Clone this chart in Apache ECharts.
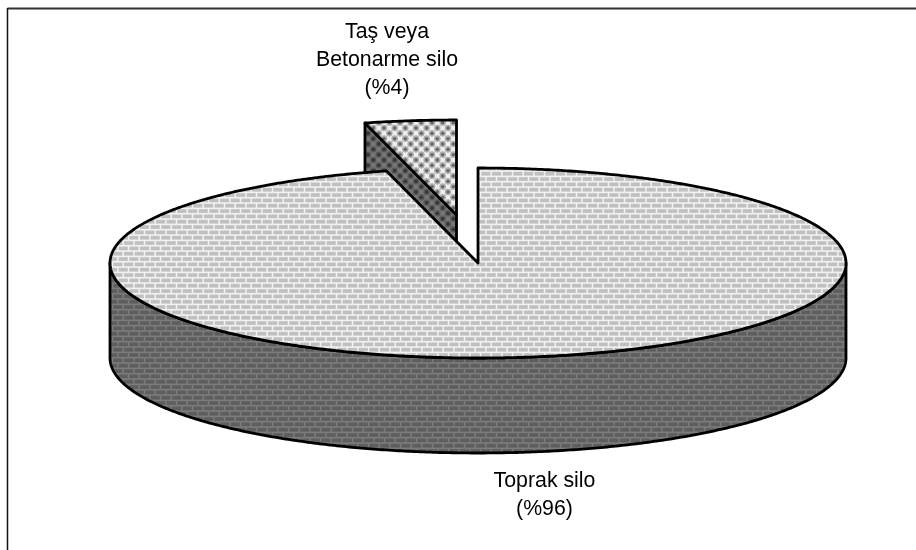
<!DOCTYPE html>
<html>
<head>
<meta charset="utf-8">
<style>html,body{margin:0;padding:0;background:#fff}#chart{width:916px;height:550px}</style>
<script src="https://cdn.jsdelivr.net/npm/echarts@6/dist/echarts.min.js"></script>
</head>
<body>
<div id="chart"></div>
<script>
// Silo types, in percent; shares run clockwise from twelve o'clock.
const sliceNames = ['Toprak silo', 'Taş veya\nBetonarme silo'];
const sliceShares = [96, 4];
const sliceLabels = ['(%96)', '(%4)'];

// Fill swatches: 8-unit hatch cells at 4/3 scale, three cells per 32px tile.
function tile(draw) {
  const c = document.createElement('canvas');
  c.width = c.height = 32;
  draw(c.getContext('2d'), 32 / 3);
  return { image: c, repeat: 'repeat' };
}
function bricks(mortar, brick) {
  return tile((g, u) => {
    g.fillStyle = mortar;
    g.fillRect(0, 0, 32, 32);
    g.fillStyle = brick;
    for (let r = 0; r < 6; r++) {
      const y = r * u / 2 + 1.2;
      const shift = r % 2 ? u / 2 : 0;
      for (let i = -1; i < 4; i++) g.fillRect(i * u + shift + 1.3, y, u - 1.5, u / 2 - 1.6);
    }
  });
}
function dots(base, ring, core) {
  return tile((g, u) => {
    g.fillStyle = base;
    g.fillRect(0, 0, 32, 32);
    for (let r = 0; r <= 6; r++) {
      const y = r * u / 2;
      const shift = r % 2 ? u / 2 : 0;
      for (let i = -1; i < 5; i++) {
        const x = i * u + shift;
        g.fillStyle = ring;
        g.beginPath(); g.arc(x, y, 3.3, 0, 7); g.fill();
        g.fillStyle = core;
        g.beginPath(); g.arc(x, y, 1.7, 0, 7); g.fill();
      }
    }
  });
}
const lightBrick = bricks('#f2f2f2', '#c0c0c0');
const darkBrick = bricks('#7c7c7c', '#5e5e5e');
const lightDots = dots('#f0f0f0', '#b0b0b0', '#666666');
const darkDots = dots('#787878', '#5a5a5a', '#333333');

// Projected pie: ellipse centre, radii, wall height and the pull-out of the small slice.
const pie = { cx: 478, cy: 263, rx: 368, ry: 95, depth: 95 };
const pullOut = [[0, 0], [-21.5, -48]];
const labelAt = [[544.5, 481, 509], [387, 32, 88]];
const outline = { stroke: '#000', lineWidth: 2.8, lineJoin: 'round' };

const rim = (ox, oy, deg) => {
  const a = deg * Math.PI / 180;
  return [pie.cx + ox + pie.rx * Math.sin(a), pie.cy + oy - pie.ry * Math.cos(a)];
};
const arc = (ox, oy, from, to, dy = 0) => {
  const pts = [];
  const n = Math.max(2, Math.ceil(Math.abs(to - from) * 2));
  for (let i = 0; i <= n; i++) {
    const p = rim(ox, oy, from + (to - from) * i / n);
    pts.push([p[0], p[1] + dy]);
  }
  return pts;
};

const total = sliceShares.reduce((s, v) => s + v, 0);
const slices = sliceShares.map((v, i) => {
  const start = sliceShares.slice(0, i).reduce((s, w) => s + w, 0) / total * 360;
  return { name: sliceNames[i], label: sliceLabels[i], value: v, start, end: start + v / total * 360, index: i };
});

function polygon(points, fill) {
  return { type: 'polygon', shape: { points }, style: { fill, ...outline } };
}

function renderSlice(index) {
  const s = slices[index];
  const [ox, oy] = pullOut[s.index];
  const centre = [pie.cx + ox, pie.cy + oy];
  const children = [];
  if (s.index === 0) {
    // Front wall: the part of the rim facing the viewer.
    const wallFrom = Math.max(s.start, 90), wallTo = Math.min(s.end, 270);
    children.push(polygon(arc(ox, oy, wallFrom, wallTo).concat(arc(ox, oy, wallTo, wallFrom, pie.depth)), darkBrick));
    children.push(polygon([centre].concat(arc(ox, oy, s.start, s.end)), lightBrick));
  } else {
    // Cut face of the pulled-out slice, then its top.
    const e = rim(ox, oy, s.start);
    children.push(polygon([centre, e, [e[0], e[1] + pie.depth], [centre[0], centre[1] + pie.depth]], darkDots));
    children.push(polygon([centre].concat(arc(ox, oy, s.start, s.end)), lightDots));
  }
  return { type: 'group', children };
}

function renderLabel(params) {
  const s = slices[params.dataIndex];
  const [x, y1, y2] = labelAt[s.index];
  const textStyle = { fill: '#000', font: '21.3px "Liberation Sans", Arial, sans-serif', align: 'center', verticalAlign: 'middle', lineHeight: 27.5 };
  return {
    type: 'group',
    children: [
      { type: 'text', style: { ...textStyle, x, y: s.index === 0 ? y1 : (y1 + y2) / 2 - 13.75, text: s.name } },
      { type: 'text', style: { ...textStyle, x, y: y2, text: s.label } }
    ]
  };
}

const chart = echarts.init(document.getElementById('chart'), null, { renderer: 'canvas' });
chart.setOption({
  animation: false,
  backgroundColor: '#ffffff',
  graphic: [
    { type: 'line', shape: { x1: 7.5, y1: 8.5, x2: 916, y2: 8.5 }, style: { stroke: '#333', lineWidth: 2 } },
    { type: 'line', shape: { x1: 7.5, y1: 8, x2: 7.5, y2: 550 }, style: { stroke: '#111', lineWidth: 1.5 } }
  ],
  series: [
    // The small slice sits behind the large one, so it is painted first.
    { type: 'custom', coordinateSystem: 'none', silent: true, z: 1,
      renderItem: () => renderSlice(1),
      data: [sliceShares[1]] },
    { type: 'custom', coordinateSystem: 'none', silent: true, z: 2,
      renderItem: () => renderSlice(0),
      data: [sliceShares[0]] },
    { type: 'custom', coordinateSystem: 'none', silent: true, z: 3,
      renderItem: renderLabel,
      data: sliceShares }
  ]
});
</script>
</body>
</html>
